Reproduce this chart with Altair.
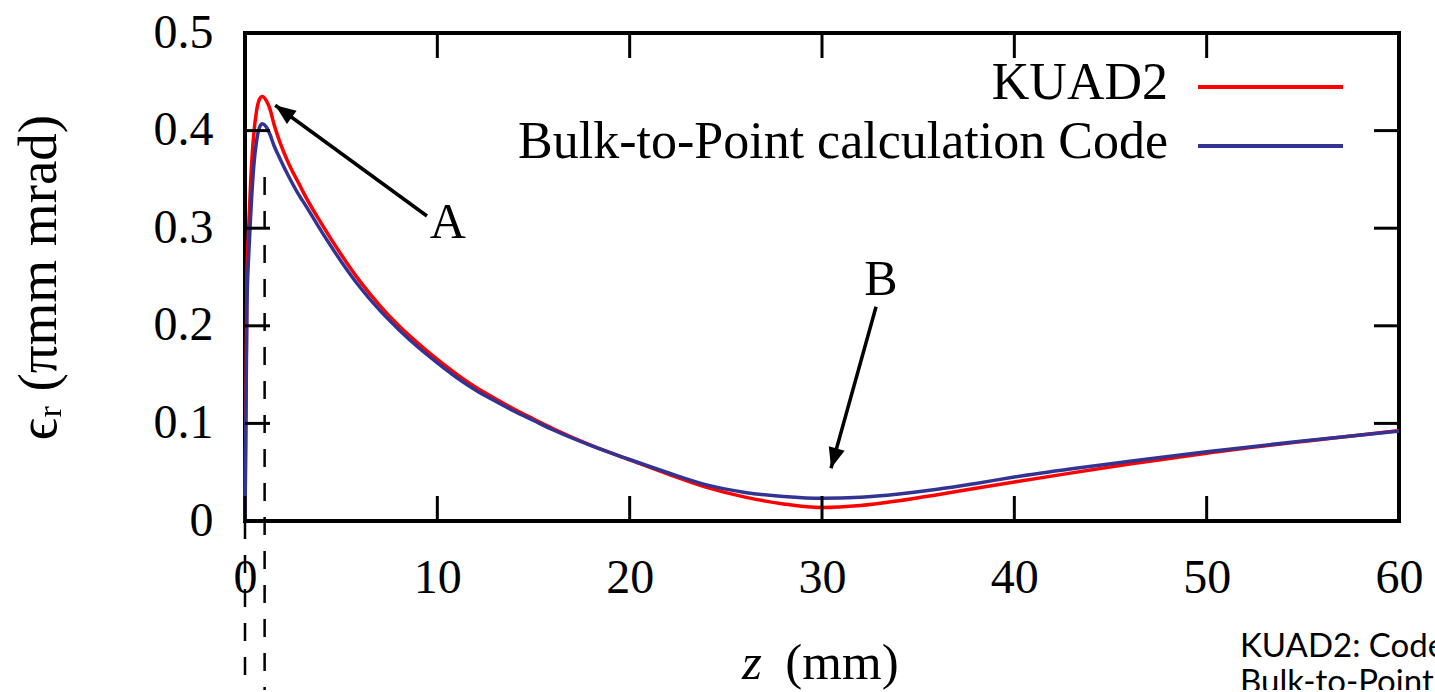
import altair as alt
import pandas as pd

# ---------------- data ----------------
z_grid = [0, 0.1, 0.2, 0.3, 0.45, 0.6, 0.75, 0.9, 1.1, 1.3, 1.5, 1.8, 2.3, 2.9, 3.0,
          4.0, 5.0, 6.0, 7.0, 8.0, 9.0, 10, 11, 12, 13, 14, 15, 16, 18, 20, 22, 24,
          26, 28, 30, 32, 34, 36, 38, 40, 43, 46, 50, 55, 60]
kuad2 = [0.0, 0.25, 0.305, 0.35, 0.395, 0.42, 0.432, 0.435, 0.431, 0.422, 0.407,
         0.389, 0.365, 0.342, 0.338, 0.304, 0.273, 0.245, 0.221, 0.2, 0.182, 0.1655,
         0.1505, 0.137, 0.1255, 0.1145, 0.1045, 0.0948, 0.0775, 0.0627, 0.048, 0.0345,
         0.0245, 0.0175, 0.0138, 0.0158, 0.0208, 0.027, 0.0336, 0.040, 0.0493, 0.0583,
         0.0695, 0.0815, 0.0925]
bulk = [0.0, 0.22, 0.275, 0.315, 0.362, 0.389, 0.403, 0.407, 0.404, 0.396, 0.385,
        0.372, 0.352, 0.331, 0.328, 0.296, 0.266, 0.239, 0.216, 0.196, 0.178, 0.162,
        0.147, 0.134, 0.123, 0.1125, 0.103, 0.0935, 0.0772, 0.063, 0.0494, 0.037,
        0.0293, 0.0252, 0.0232, 0.0243, 0.0277, 0.0325, 0.0385, 0.045, 0.0535, 0.0612,
        0.071, 0.082, 0.092]

series_names = ["KUAD2", "Bulk-to-Point calculation Code"]
series_colors = ["#ff0000", "#333394"]

x_ticks = [0, 10, 20, 30, 40, 50, 60]
y_ticks = [0, 0.1, 0.2, 0.3, 0.4, 0.5]

dash_z = [0, 1.02]
dash_top = [0, 0.3525]

arrow_labels = ["A", "B"]
arrow_tail_z = [9.46, 32.81]
arrow_tail_v = [0.3125, 0.2196]
arrow_tip_z = [1.57, 30.47]
arrow_tip_v = [0.426, 0.054]
arrow_angle = [306, 196]
label_z = [10.54, 33.07]
label_v = [0.29, 0.2316]

x_title_var = "z"
x_title_unit = "(mm)"
y_title = "ϵᵣ (πmm mrad)"
note_text = "KUAD2: Code\nBulk-to-Point"

# ---------------- layout constants ----------------
W, H = 1154, 488
SERIF = "Liberation Serif"
TICK = 25

xs = alt.Scale(domain=[0, 60], nice=False, zero=False)
ys = alt.Scale(domain=[0, 0.5], nice=False, zero=False)

x_axis = alt.Axis(values=x_ticks, ticks=False, tickSize=0, domain=False, grid=False,
                  labelFont=SERIF, labelFontSize=48, labelColor="black",
                  labelPadding=33, labelFlush=False, labelOverlap=False, title="")
y_axis = alt.Axis(values=y_ticks, ticks=False, tickSize=0, domain=False, grid=False,
                  labelFont=SERIF, labelFontSize=48, labelColor="black",
                  labelPadding=32, labelFlush=False, labelOverlap=False,
                  labelExpr="datum.value == 0 ? '0' : format(datum.value, '.1f')",
                  title=y_title, titleFont=SERIF, titleFontSize=55,
                  titleFontWeight="normal", titleColor="black", titlePadding=86)


def X(field):
    return alt.X(field, type="quantitative", scale=xs, axis=x_axis)


def Y(field):
    return alt.Y(field, type="quantitative", scale=ys, axis=y_axis)


df_k = pd.DataFrame({"z": z_grid, "v": kuad2})
df_b = pd.DataFrame({"z": z_grid, "v": bulk})

red_line = alt.Chart(df_k).mark_line(color=series_colors[0], strokeWidth=3.5,
                                     interpolate="monotone").encode(x=X("z"), y=Y("v"))
blue_line = alt.Chart(df_b).mark_line(color=series_colors[1], strokeWidth=3.5,
                                      interpolate="monotone").encode(x=X("z"), y=Y("v"))

# inward ticks on all four sides
df_xt = pd.DataFrame({"t": x_ticks})
df_yt = pd.DataFrame({"t": y_ticks})
tick_style = dict(color="black", strokeWidth=3)
xt_bottom = alt.Chart(df_xt).mark_rule(**tick_style).encode(
    x=X("t"), y=alt.value(H), y2=alt.value(H - TICK))
xt_top = alt.Chart(df_xt).mark_rule(**tick_style).encode(
    x=X("t"), y=alt.value(0), y2=alt.value(TICK))
yt_left = alt.Chart(df_yt).mark_rule(**tick_style).encode(
    y=Y("t"), x=alt.value(0), x2=alt.value(TICK))
yt_right = alt.Chart(df_yt).mark_rule(**tick_style).encode(
    y=Y("t"), x=alt.value(W - TICK), x2=alt.value(W))

# dashed vertical markers running below the plot
df_dash = pd.DataFrame({"z": dash_z, "top": dash_top})
dashes = alt.Chart(df_dash).mark_rule(color="black", strokeWidth=2.5,
                                      strokeDash=[18, 16], clip=False).encode(
    x=X("z"), y=Y("top"), y2=alt.value(H + 175),
)

# arrows with labels A, B
df_arrow = pd.DataFrame({
    "label": arrow_labels, "tz": arrow_tail_z, "tv": arrow_tail_v,
    "hz": arrow_tip_z, "hv": arrow_tip_v, "ang": arrow_angle,
    "lz": label_z, "lv": label_v,
})
shafts = alt.Chart(df_arrow).mark_rule(color="black", strokeWidth=3.5).encode(
    x=X("tz"), y=Y("tv"), x2="hz:Q", y2="hv:Q",
)
heads = alt.Chart(df_arrow).mark_point(
    shape="M0,0L-0.8,2L0.8,2Z", filled=True, size=420, color="black",
    opacity=1, strokeWidth=0).encode(
    x=X("hz"), y=Y("hv"), angle=alt.Angle("ang:Q", scale=None),
)
arrow_text = alt.Chart(df_arrow).mark_text(
    font=SERIF, fontSize=50, color="black", align="center", baseline="alphabetic").encode(
    x=X("lz"), y=Y("lv"), text="label:N",
)

# x-axis title with an italic variable name
df_xt_title = pd.DataFrame({"var": [x_title_var], "unit": [x_title_unit]})
x_title_a = alt.Chart(df_xt_title).mark_text(
    font=SERIF, fontSize=51, fontStyle="italic", color="black", align="center",
    baseline="alphabetic").encode(x=alt.value(507), y=alt.value(646), text="var:N")
x_title_b = alt.Chart(df_xt_title).mark_text(
    font=SERIF, fontSize=51, color="black", align="center",
    baseline="alphabetic").encode(x=alt.value(597), y=alt.value(646), text="unit:N")

# legend (top right, label left of its line sample)
legend_layers = []
for i, (name, col) in enumerate(zip(series_names, series_colors)):
    d = pd.DataFrame({"name": [name]})
    line_y = 54 + i * 59
    legend_layers.append(alt.Chart(d).mark_rule(color=col, strokeWidth=4).encode(
        x=alt.value(953), x2=alt.value(1098), y=alt.value(line_y)))
    legend_layers.append(alt.Chart(d).mark_text(
        font=SERIF, fontSize=52, color="black", align="right",
        baseline="alphabetic").encode(
        x=alt.value(923), y=alt.value(line_y + 12), text="name:N"))

# cropped slide note at bottom right
note = alt.Chart(pd.DataFrame({"t": [note_text]})).mark_text(
    font="Lato", fontSize=33, color="black", align="left",
    baseline="alphabetic", lineBreak="\n", lineHeight=36).encode(
    x=alt.value(995), y=alt.value(624), text="t:N")

chart = alt.layer(
    red_line, blue_line, xt_bottom, xt_top, yt_left, yt_right, dashes,
    shafts, heads, arrow_text, x_title_a, x_title_b, *legend_layers, note,
).properties(
    width=W, height=H,
    autosize=alt.AutoSizeParams(type="none"),
    padding={"left": 245, "top": 33, "right": 36, "bottom": 169},
).configure(
    background="white",
    view=alt.ViewConfig(stroke="black", strokeWidth=4),
)

chart.save("out.html", embed_options={"renderer": "svg", "actions": False})
